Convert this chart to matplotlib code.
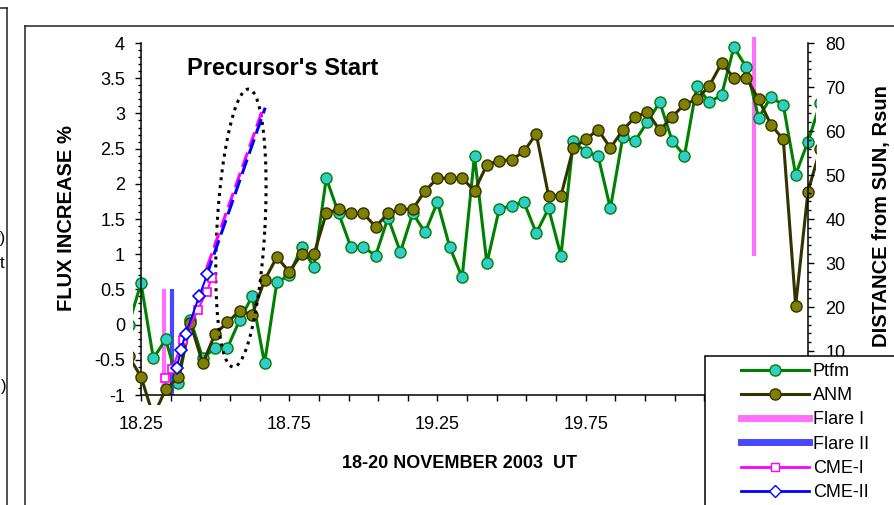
import numpy as np
import matplotlib.pyplot as plt
from matplotlib.lines import Line2D
from matplotlib.patches import Rectangle
from matplotlib.ticker import FixedLocator, FuncFormatter

plt.rcParams['font.family'] = ['Liberation Sans', 'DejaVu Sans']

W, H = 895, 505


def fx(px):
    return px / W


def fy(py):
    return 1 - py / H


# hourly samples, 18.25 .. 20.5 (one extra point each side, clipped at the frame)
hour = np.arange(-1, 56)
day = 18.25 + hour / 24

ptfm = [0.00, 0.59, -0.48, -0.21, -0.83, 0.07, -0.48, -0.33, -0.33, 0.07,
        0.40, -0.55, 0.60, 0.70, 1.10, 0.82, 2.08, 1.58, 1.10, 1.10,
        0.98, 1.52, 1.03, 1.58, 1.31, 1.74, 1.10, 0.67, 2.40, 0.87,
        1.64, 1.69, 1.74, 1.30, 1.65, 0.98, 2.61, 2.45, 2.40, 1.65,
        2.66, 2.61, 2.88, 3.16, 2.61, 2.40, 3.39, 3.16, 3.26, 3.94,
        3.66, 2.94, 3.23, 3.12, 2.13, 2.60, 3.15]

anm = [-0.45, -0.74, -1.30, -0.92, -0.75, 0.02, -0.55, -0.13, 0.03, 0.20,
       0.14, 0.63, 0.96, 0.75, 1.00, 1.00, 1.58, 1.64, 1.58, 1.58,
       1.39, 1.58, 1.64, 1.64, 1.90, 2.08, 2.08, 2.08, 1.90, 2.27,
       2.33, 2.34, 2.46, 2.71, 1.83, 1.83, 2.51, 2.63, 2.77, 2.51,
       2.76, 2.95, 3.02, 2.76, 2.95, 3.13, 3.20, 3.39, 3.71, 3.51,
       3.51, 3.20, 2.84, 2.63, 0.27, 1.89, 2.50]

# CME height-time points (Rsun) and their extrapolation
cme1_day = [18.331, 18.354, 18.393, 18.442, 18.472, 18.489]
cme1_rsun = [3.8, 5.8, 12.6, 19.4, 23.5, 26.7]
cme1_ext_day = [18.472, 18.658]
cme1_ext_rsun = [28.9, 64.4]

cme2_day = [18.371, 18.384, 18.401, 18.446, 18.474]
cme2_rsun = [6.2, 10.2, 13.9, 22.4, 27.5]
cme2_ext_day = [18.472, 18.669]
cme2_ext_rsun = [27.3, 65.3]

# flare markers (left axis units)
flare1_day = [18.329, 20.317]
flare1_lo = [-1.0, 0.97]
flare1_hi = [0.5, 4.09]
flare2_day = [18.356]
flare2_lo = [-1.0]
flare2_hi = [0.5]

# "precursor" ellipse: centre, half-width, half-height, lean
ell_x, ell_y, ell_a, ell_b, ell_lean = 18.587, 1.372, 0.081, 1.974, 0.0254

fig = plt.figure(figsize=(W / 100, H / 100), dpi=100)
fig.patch.set_facecolor('white')

ax = fig.add_axes([fx(133), fy(405), fx(816) - fx(133), (405 - 35) / H])
ax.set_xlim(18.223, 20.527)
ax.set_ylim(-1.142, 4.114)
ax2 = ax.twinx()
ax2.set_ylim((-1.142 + 1) * 16, (4.114 + 1) * 16)

# spines sit on the data range, plot area is a bit larger
ax.spines['left'].set_position(('data', 18.25))
ax.spines['left'].set_bounds(-1, 4)
ax.spines['bottom'].set_position(('data', -1))
ax.spines['bottom'].set_bounds(18.25, 20.5)
ax.spines['top'].set_visible(False)
ax.spines['right'].set_visible(False)
for s in ['left', 'top', 'bottom']:
    ax2.spines[s].set_visible(False)
ax2.spines['right'].set_position(('data', 20.5))
ax2.spines['right'].set_bounds(0, 80)
for sp in list(ax.spines.values()) + list(ax2.spines.values()):
    sp.set_linewidth(1.1)

ax.xaxis.set_major_locator(FixedLocator([18.25, 18.75, 19.25, 19.75, 20.25]))
ax.xaxis.set_minor_locator(FixedLocator(np.arange(18.25, 20.51, 0.1)))
ax.xaxis.set_major_formatter(FuncFormatter(lambda v, p: f'{v:.2f}'))
ax.yaxis.set_major_locator(FixedLocator(np.arange(-1, 4.01, 0.5)))
ax.yaxis.set_minor_locator(FixedLocator(np.arange(-1, 4.01, 0.1)))
ax.yaxis.set_major_formatter(FuncFormatter(lambda v, p: f'{v:g}'))
ax2.yaxis.set_major_locator(FixedLocator(np.arange(0, 81, 10)))
ax2.yaxis.set_minor_locator(FixedLocator(np.arange(0, 81, 2)))

ax.tick_params(axis='x', which='both', direction='out', length=4, width=1, labelsize=13, pad=11)
ax.tick_params(axis='y', which='major', direction='out', length=4.5, width=1, labelsize=13, pad=7)
ax.tick_params(axis='y', which='minor', direction='out', length=2.5, width=1)
ax2.tick_params(axis='y', which='major', direction='out', length=4.5, width=1, labelsize=13, pad=8)
ax2.tick_params(axis='y', which='minor', direction='out', length=2.5, width=1)

ax.vlines(flare1_day, flare1_lo, flare1_hi, color='#ff70ff', lw=3, zorder=1)
ax.vlines(flare2_day, flare2_lo, flare2_hi, color='#4848ff', lw=3, zorder=1)
ax.plot(day, ptfm, color='#008000', lw=2.2, marker='o', ms=8,
        mfc='#33cccc', mec='#008000', mew=1, zorder=2)
ax.plot(day, anm, color='#333300', lw=2.2, marker='o', ms=8,
        mfc='#808000', mec='#333300', mew=1, zorder=3)

t = np.linspace(0, 2 * np.pi, 300)
ax.plot(ell_x + ell_a * np.cos(t) + ell_lean * np.sin(t), ell_y + ell_b * np.sin(t),
        color='black', lw=2.2, ls=(0, (1, 1.6)), zorder=4)
ax.text(18.404, 3.545, "Precursor's Start", fontsize=17, fontweight='bold', va='baseline')

ax2.plot(cme1_ext_day, cme1_ext_rsun, color='#ff00ff', lw=2.2, ls=(0, (5, 2)))
ax2.plot(cme2_ext_day, cme2_ext_rsun, color='#0000ff', lw=2.2, ls=(0, (5, 2)))
ax2.plot(cme1_day, cme1_rsun, color='#ff00ff', lw=1.5, marker='s', ms=6,
         mfc='white', mec='#ff00ff', mew=1.2)
ax2.plot(cme2_day, cme2_rsun, color='#0000ff', lw=1.5, marker='D', ms=6.5,
         mfc='white', mec='#0000ff', mew=1.2)

ax.set_ylabel('FLUX INCREASE %', fontsize=14.5, fontweight='bold', va='center', ha='center')
ax.yaxis.set_label_coords((66 - 133) / 683, (405 - 218) / 370)
ax2.set_ylabel('DISTANCE from SUN, Rsun', fontsize=14.5, fontweight='bold',
               va='center', ha='center', rotation=90)
ax2.yaxis.set_label_coords((882 - 133) / 683, (405 - 216) / 370)
ax.set_xlabel('18-20 NOVEMBER 2003  UT', fontsize=13, fontweight='bold', va='center', ha='center')
ax.xaxis.set_label_coords((460 - 133) / 683, (405 - 463) / 370)

# legend box runs off the page corner
fig.add_artist(Rectangle((fx(705), fy(520)), (920 - 705) / W, (520 - 356) / H,
                         transform=fig.transFigure, facecolor='white',
                         edgecolor='black', lw=1.1, zorder=10))
handles = [
    Line2D([], [], color='#008000', lw=2.2, marker='o', ms=8, mfc='#33cccc', mec='#008000'),
    Line2D([], [], color='#333300', lw=2.2, marker='o', ms=8, mfc='#808000', mec='#333300'),
    Line2D([], [], color='#ff70ff', lw=5),
    Line2D([], [], color='#4848ff', lw=5),
    Line2D([], [], color='#ff00ff', lw=2, marker='s', ms=6, mfc='white', mec='#ff00ff'),
    Line2D([], [], color='#0000ff', lw=2, marker='D', ms=6.5, mfc='white', mec='#0000ff'),
]
labels = ['Ptfm', 'ANM', 'Flare I', 'Flare II', 'CME-I', 'CME-II']
leg = fig.legend(handles, labels, loc='upper left', bbox_to_anchor=(fx(741), fy(363)),
                 frameon=False, borderpad=0, borderaxespad=0, handlelength=3.75,
                 handletextpad=0.22, labelspacing=0.4, fontsize=13)
leg.set_zorder(11)

# page frames
frame = dict(color='#202020', lw=1.1, transform=fig.transFigure)
fig.add_artist(Line2D([fx(25), fx(25)], [fy(26), fy(510)], **frame))
fig.add_artist(Line2D([fx(25), fx(900)], [fy(26), fy(26)], **frame))
fig.add_artist(Line2D([fx(7), fx(7)], [fy(8), fy(510)], **frame))
fig.add_artist(Line2D([fx(-5), fx(7)], [fy(8), fy(8)], **frame))
fig.text(fx(6), fy(238), 'r)', ha='right', va='center', fontsize=12)
fig.text(fx(4), fy(263), 't', ha='right', va='center', fontsize=12)
fig.text(fx(7), fy(387), ')', ha='right', va='center', fontsize=12)

fig.savefig('out.png', dpi=100)
